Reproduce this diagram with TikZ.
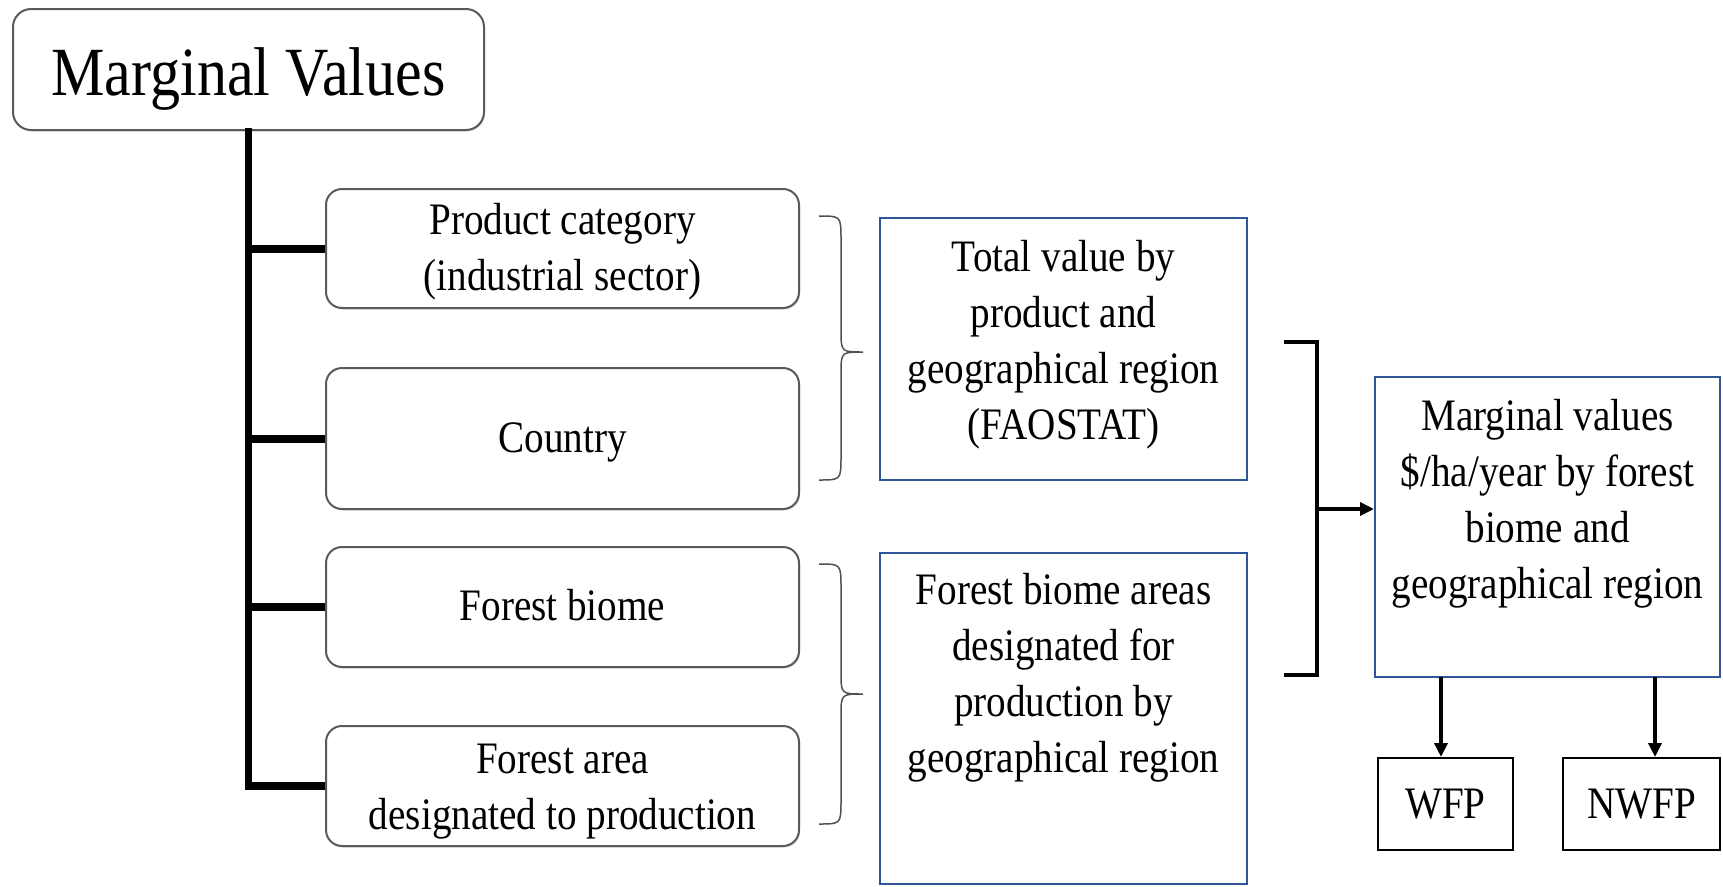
\documentclass[tikz,border=0pt]{standalone}
\usepackage{fontspec}
\setmainfont{Liberation Serif}[FakeStretch=0.87]
\usetikzlibrary{arrows.meta,calc,shadows}
\definecolor{boxblue}{RGB}{47,85,151}
\definecolor{rgray}{RGB}{90,90,90}
\definecolor{bracegray}{RGB}{80,80,80}
\begin{document}
\begin{tikzpicture}[x=1pt,y=-1pt,
  rbox/.style={draw=rgray, line width=2pt, rounded corners=16pt, fill=white,
    inner sep=0pt, align=center, font=\fontsize{45}{56}\selectfont,
    drop shadow={shadow xshift=1.2pt, shadow yshift=-1.5pt, fill=gray!45, opacity=0.6}},
  bbox/.style={draw=boxblue, line width=2pt, inner sep=0pt},
  kbox/.style={draw=black, line width=2pt, inner sep=0pt, font=\fontsize{45}{54}\selectfont},
  txt/.style={align=center, inner sep=0pt, font=\fontsize{45}{56}\selectfont},
  trunk/.style={line width=7pt, line cap=rect},
  branch/.style={line width=8pt},
  brc/.style={draw=bracegray, line width=1.5pt},
  bracket/.style={line width=4.5pt},
  arr/.style={line width=4pt, -{Triangle[length=14pt,width=13pt]}}]
\useasboundingbox (0,0) rectangle (1723,886);

% left hierarchy
\node[rbox, rounded corners=18pt, minimum width=471pt, minimum height=121pt] (mv) at (248.5,69.5) {};
\node[anchor=base, inner sep=0pt, font=\fontsize{69}{72}\selectfont] (mvt) at (248.5,95) {Marginal Values};
\node[rbox, minimum width=473pt, minimum height=119pt] (b1) at (562.5,248.5) {};
\node[txt] (b1t) at (562.5,252) {Product category\\(industrial sector)};
\node[rbox, minimum width=473pt, minimum height=141pt] (b2) at (562.5,438.5) {};
\node[txt] (b2t) at (562.5,442) {Country};
\node[rbox, minimum width=473pt, minimum height=120pt] (b3) at (562.5,607) {};
\node[txt] (b3t) at (562.5,605) {Forest biome};
\node[rbox, minimum width=473pt, minimum height=120pt] (b4) at (562.5,786) {};
\node[txt] (b4t) at (562.5,792) {Forest area\\designated to production};

\draw[trunk] (mv.south) -- (mv.south |- b4.west);
\foreach \b in {b1,b2,b3,b4}
  \draw[branch] (mv.south |- \b.west) -- (\b.west);

% braces
\coordinate (ba1) at (819,216);
\coordinate (bt1) at (863,352);
\coordinate (bz1) at (819,480);
\coordinate (ba2) at (819,564);
\coordinate (bt2) at (863,694);
\coordinate (bz2) at (819,824);
\draw[brc] (ba1) .. controls (841,216) .. (841,240) -- (841,330)
  .. controls (841,352) .. (bt1) .. controls (841,352) .. (841,374)
  -- (841,456) .. controls (841,480) .. (bz1);
\draw[brc] (ba2) .. controls (841,564) .. (841,588) -- (841,672)
  .. controls (841,694) .. (bt2) .. controls (841,694) .. (841,716)
  -- (841,800) .. controls (841,824) .. (bz2);

% blue boxes
\node[bbox, minimum width=367pt, minimum height=262pt] (t1) at (1063.5,349) {};
\node[txt] (t1t) at (1063.5,345) {Total value by\\product and\\geographical region\\(FAOSTAT)};
\node[bbox, minimum width=367pt, minimum height=331pt] (t2) at (1063.5,718.5) {};
\node[txt] (t2t) at (1063.5,678) {Forest biome areas\\designated for\\production by\\geographical region};

% bracket and arrow
\coordinate (k1) at (1284,342);
\coordinate (k2) at (1317,342);
\coordinate (k3) at (1317,675);
\coordinate (k4) at (1284,675);
\coordinate (km) at (1317,509);
\draw[bracket] (k1) -- (k2) -- (k3) -- (k4);

\node[bbox, minimum width=345pt, minimum height=300pt] (mvr) at (1547.5,527) {};
\node[txt] (mvrt) at (1547.5,504) {Marginal values\\\$/ha/year by forest\\biome and\\geographical region};
\draw[arr] (km) -- (km -| mvr.west);

% outputs
\node[kbox, minimum width=135pt, minimum height=92pt] (wfp) at (1445.5,804) {WFP};
\node[kbox, minimum width=157pt, minimum height=92pt] (nwfp) at (1641.5,804) {NWFP};
\coordinate (a1) at (1441,677);
\coordinate (a2) at (1655,677);
\draw[arr] (a1) -- (a1 |- wfp.north);
\draw[arr] (a2) -- (a2 |- nwfp.north);
\end{tikzpicture}
\end{document}
